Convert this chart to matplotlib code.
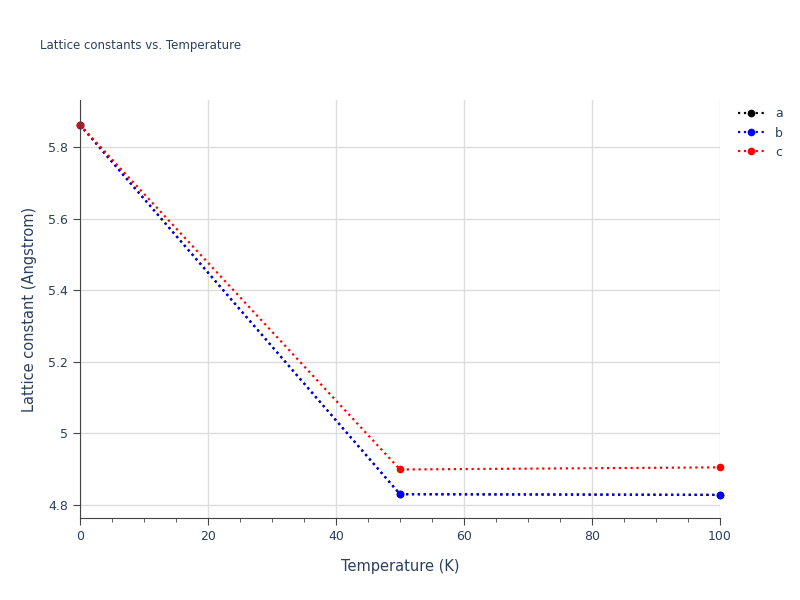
import matplotlib
matplotlib.use("Agg")
import matplotlib.pyplot as plt
from matplotlib.ticker import MultipleLocator

temperature = [0, 50, 100]
lat_a = [5.862, 4.830, 4.828]
lat_b = [5.862, 4.830, 4.828]
lat_c = [5.862, 4.899, 4.905]

txt = '#2a3f5f'
fig = plt.figure(figsize=(8, 6), dpi=100)
ax = fig.add_axes([0.1, 0.137, 0.8, 0.696])

for vals, col, name in [(lat_a, 'black', 'a'), (lat_b, 'blue', 'b'), (lat_c, 'red', 'c')]:
    ax.plot(temperature, vals, ':', color=col, lw=1.6, marker='o', ms=4.5, label=name, clip_on=False)

ax.set_xlim(0, 100)
ax.set_ylim(4.764, 5.931)
ax.xaxis.set_major_locator(MultipleLocator(20))
ax.xaxis.set_minor_locator(MultipleLocator(5))
ax.set_yticks([4.8, 5.0, 5.2, 5.4, 5.6, 5.8])
ax.set_yticklabels(['4.8', '5', '5.2', '5.4', '5.6', '5.8'])
ax.grid(True, color='#dddddd', lw=1)
ax.set_axisbelow(True)
for s in ['top', 'right']:
    ax.spines[s].set_visible(False)
for s in ['left', 'bottom']:
    ax.spines[s].set_color('#444444')
ax.tick_params(colors='#444444', labelcolor=txt, labelsize=9, direction='out', length=5)
ax.tick_params(which='minor', length=3, colors='#444444')
ax.set_xlabel('Temperature (K)', color=txt, fontsize=10.5, labelpad=12)
ax.set_ylabel('Lattice constant (Angstrom)', color=txt, fontsize=10.5, labelpad=8)
fig.text(0.05, 0.918, 'Lattice constants vs. Temperature', color=txt, fontsize=8.5)
leg = ax.legend(loc='upper left', bbox_to_anchor=(1.01, 1.01), frameon=False, fontsize=9,
                handlelength=2.2, labelcolor=txt)
fig.savefig('out.png')
